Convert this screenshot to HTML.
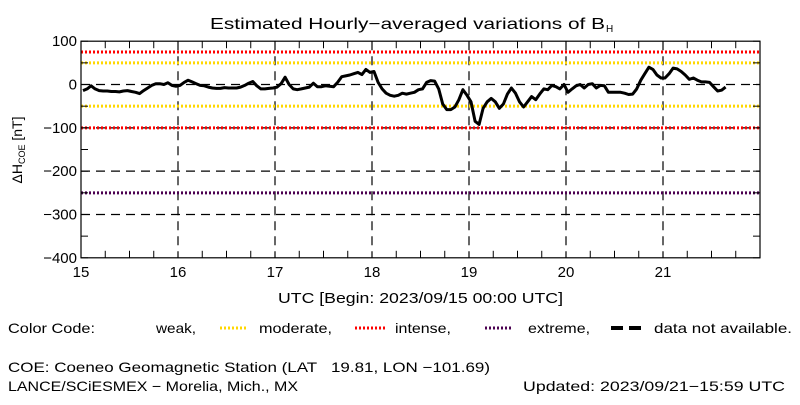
<!DOCTYPE html>
<html><head><meta charset="utf-8"><style>
body{margin:0;background:#fff;}
svg text{font-family:"Liberation Sans",sans-serif;fill:#000;white-space:pre;}
</style></head><body>
<svg width="800" height="400" xmlns="http://www.w3.org/2000/svg">
<g id="grid"></g>
<g id="levels"></g>
<g id="axes"></g>
<path id="series" fill="none" stroke="#000" stroke-width="3" stroke-linejoin="round"/>
<text x="210" y="29" font-size="16" textLength="395" lengthAdjust="spacingAndGlyphs">Estimated Hourly−averaged variations of B</text>
<text x="606" y="32" font-size="10">H</text>
<text transform="translate(22,150) rotate(-90)" text-anchor="middle" font-size="14">ΔH<tspan font-size="9" dy="3">COE</tspan><tspan dy="-3"> [nT]</tspan></text>
<text x="278" y="303" font-size="15" textLength="285" lengthAdjust="spacingAndGlyphs">UTC [Begin: 2023/09/15 00:00 UTC]</text>
<g font-size="14">
<text x="8" y="333" textLength="87" lengthAdjust="spacingAndGlyphs">Color Code:</text>
<text x="156" y="333" textLength="40" lengthAdjust="spacingAndGlyphs">weak,</text>
<line x1="220" y1="328" x2="248" y2="328" stroke="#ffd700" stroke-width="3" stroke-dasharray="2,2"/>
<text x="259" y="333" textLength="73" lengthAdjust="spacingAndGlyphs">moderate,</text>
<line x1="355" y1="328" x2="387" y2="328" stroke="#ff0000" stroke-width="3" stroke-dasharray="2,2"/>
<text x="395" y="333" textLength="56" lengthAdjust="spacingAndGlyphs">intense,</text>
<line x1="485" y1="328" x2="513" y2="328" stroke="#4b0050" stroke-width="3" stroke-dasharray="2,2"/>
<text x="528" y="333" textLength="62" lengthAdjust="spacingAndGlyphs">extreme,</text>
<line x1="611" y1="328" x2="641" y2="328" stroke="#000" stroke-width="4" stroke-dasharray="12,6"/>
<text x="654" y="333" textLength="138" lengthAdjust="spacingAndGlyphs">data not available.</text>
</g>
<text x="8" y="372" font-size="14" textLength="482" lengthAdjust="spacingAndGlyphs">COE: Coeneo Geomagnetic Station (LAT   19.81, LON −101.69)</text>
<text x="8" y="391" font-size="14" textLength="290" lengthAdjust="spacingAndGlyphs">LANCE/SCiESMEX − Morelia, Mich., MX</text>
<text x="523" y="391" font-size="14" textLength="262" lengthAdjust="spacingAndGlyphs">Updated: 2023/09/21−15:59 UTC</text>
</svg>
<script>
const dayTicks=[15,16,17,18,19,20,21,22];
const yTicks=[100,0,-100,-200,-300,-400];
const levelValues=[75,50,-50,-100,-250];
const levelColors=["#ff0000","#ffd700","#ffd700","#ff0000","#4b0050"];
const day15=[-14,-10,-3,-10,-14,-15,-15,-16,-16,-17,-15,-14,-16,-18,-21,-14,-8,-2,2,2,0,4,-2,-4];
const day16=[-2,5,10,6,2,-2,-3,-6,-8,-9,-9,-7,-8,-8,-8,-6,-2,3,7,-3,-10,-10,-9,-8];
const day17=[-6,2,17,0,-10,-12,-10,-8,-6,3,-5,-5,-3,-4,-5,5,18,20,22,25,28,23,35,28];
const day18=[30,5,-10,-20,-25,-27,-25,-20,-22,-20,-18,-12,-10,5,9,8,-10,-45,-58,-58,-52,-35,-12,-25];
const day19=[-40,-85,-92,-55,-40,-32,-40,-55,-45,-22,-8,-20,-40,-52,-40,-28,-35,-22,-10,-12,-2,-5,-10,0];
const day20=[-18,-10,-3,0,-8,0,2,-8,-2,-3,-18,-18,-18,-18,-20,-23,-22,-10,10,25,40,35,22,15];
const day21=[15,25,38,36,30,22,12,15,10,6,6,5,-5,-15,-13,-6];
const values=[].concat(day15,day16,day17,day18,day19,day20,day21);
const X0=81,X1=760,Y0=41.2,Y1=257.8,DMIN=15,DMAX=22,VMIN=-400,VMAX=100;
const xs=d=>X0+(d-DMIN)/(DMAX-DMIN)*(X1-X0);
const ys=v=>Y1-(v-VMIN)/(VMAX-VMIN)*(Y1-Y0);
const NS="http://www.w3.org/2000/svg";
function mk(parent,tag,attrs){const e=document.createElementNS(NS,tag);for(const k in attrs)e.setAttribute(k,attrs[k]);document.getElementById(parent).appendChild(e);return e;}
dayTicks.slice(1,-1).forEach(d=>{const l=mk('grid','line',{x1:xs(d),x2:xs(d),y1:Y0,y2:Y1,stroke:'#000','stroke-width':1.2,'stroke-dasharray':'9,6'});

});
yTicks.slice(1,-1).forEach(v=>{const l=mk('grid','line',{x1:X0,x2:X1,y1:ys(v),y2:ys(v),stroke:'#000','stroke-width':1.2,'stroke-dasharray':'9,6'});

});
levelValues.forEach((v,i)=>{const l=mk('levels','line',{x1:X0,x2:X1,y1:ys(v),y2:ys(v),stroke:levelColors[i],'stroke-width':3,'stroke-dasharray':'2,2'});

});
const fr=mk('axes','rect',{x:X0,y:Y0,width:X1-X0,height:Y1-Y0,fill:'none',stroke:'#000','stroke-width':1.2});


for(let h=0;h<=(DMAX-DMIN)*4;h++){const x=xs(DMIN+h/4);const len=h%4==0?0:7;
if(len){mk('axes','line',{x1:x,x2:x,y1:Y1,y2:Y1-len,stroke:'#000'});mk('axes','line',{x1:x,x2:x,y1:Y0,y2:Y0+len,stroke:'#000'});}}
for(let v=VMIN;v<=VMAX;v+=50){const y=ys(v);mk('axes','line',{x1:X0,x2:X0+7,y1:y,y2:y,stroke:'#000'});mk('axes','line',{x1:X1,x2:X1-7,y1:y,y2:y,stroke:'#000'});}
dayTicks.slice(0,-1).forEach(d=>{const t=mk('axes','text',{x:xs(d),y:277,'text-anchor':'middle','font-size':15});t.textContent=d;

});
yTicks.forEach(v=>{const t=mk('axes','text',{x:X0-4,y:ys(v)+5,'text-anchor':'end','font-size':15});t.textContent=(v<0?'−'+(-v):v);

});
let d='';values.forEach((v,i)=>{d+=(i?'L':'M')+xs(DMIN+(i+0.5)/24).toFixed(1)+','+ys(v).toFixed(1);});
document.getElementById('series').setAttribute('d',d);
</script>
</body></html>
